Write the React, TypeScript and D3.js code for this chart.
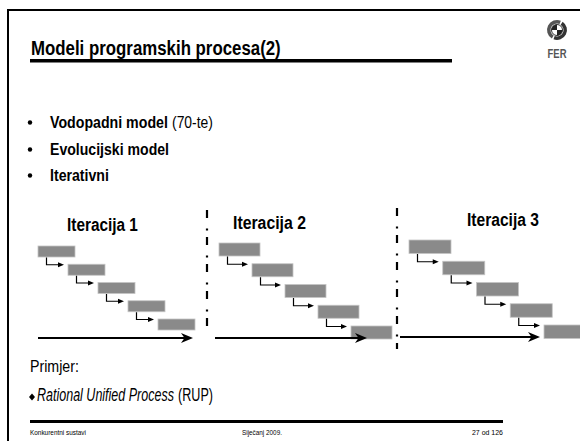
import React from "react";
import * as d3 from "d3";

// ---- content (data) ----
const titleText = "Modeli programskih procesa(2)";
const bulletBold = ["Vodopadni model", "Evolucijski model", "Iterativni"];
const bulletRest = ["(70-te)", "", ""];
const iterations = ["Iteracija 1", "Iteracija 2", "Iteracija 3"];
const phases = [0, 1, 2, 3, 4];
const exampleLabel = "Primjer:";
const exampleItalic = "Rational Unified Process";
const exampleRest = "(RUP)";
const footerLeft = "Konkurentni sustavi";
const footerCenter = "Siječanj 2009.";
const footerRight = "27 od 126";

// ---- layout (geometry only) ----
const W = 580;
const H = 441;
const FONT = "Liberation Sans";

const iterLayout = [
  { x0: 38, x1: 158, y0: 246, y1: 319, w: 37, h: 11, lx: 67, ly: 231, lw: 71, ax0: 38, ax1: 193, ay: 338 },
  { x0: 219, x1: 351, y0: 243, y1: 326, w: 41, h: 13, lx: 233, ly: 229, lw: 73, ax0: 215, ax1: 367, ay: 338 },
  { x0: 409, x1: 544, y0: 240, y1: 325, w: 42, h: 13.5, lx: 467, ly: 226, lw: 72, ax0: 400, ax1: 540, ay: 337 },
];
const dividers = [
  { x: 207, y1: 210, y2: 331 },
  { x: 397, y1: 208, y2: 349 },
];

let ctx: CanvasRenderingContext2D | null = null;
function measure(text: string, size: number, weight: string, style: string): number {
  if (!ctx) ctx = document.createElement("canvas").getContext("2d");
  if (!ctx) return text.length * size * 0.5;
  ctx.font = `${style} ${weight} ${size}px "${FONT}"`;
  return ctx.measureText(text).width;
}

function FitText(props: {
  x: number; y: number; w: number; size: number; weight?: string; fstyle?: string;
  anchor?: "start" | "middle" | "end"; fill?: string; children: string;
}) {
  const weight = props.weight || "normal";
  const fstyle = props.fstyle || "normal";
  const natural = measure(props.children, props.size, weight, fstyle);
  const sx = natural > 0 ? props.w / natural : 1;
  return (
    <text transform={`translate(${props.x},${props.y}) scale(${sx},1)`} fontFamily={`'${FONT}', Arial, sans-serif`}
      fontSize={props.size} fontWeight={weight} fontStyle={fstyle} textAnchor={props.anchor || "start"}
      fill={props.fill || "#000"}>{props.children}</text>
  );
}

function Iteration({ idx }: { idx: number }) {
  const L = iterLayout[idx];
  const xs = d3.scaleLinear().domain([0, phases.length - 1]).range([L.x0, L.x1]);
  const ys = d3.scaleLinear().domain([0, phases.length - 1]).range([L.y0, L.y1]);
  const tip = L.ax1;
  return (
    <g>
      <FitText x={L.lx} y={L.ly} w={L.lw} size={19} weight="bold">{iterations[idx]}</FitText>
      {phases.map((p) => (
        <rect key={"b" + p} x={xs(p)} y={ys(p)} width={L.w} height={L.h}
          fill="#8a8a8a" stroke="#c4c4c4" strokeWidth={0.8} />
      ))}
      {phases.slice(0, -1).map((p) => {
        const cx = xs(p) + 8.5;
        const top = ys(p) + L.h + 0.5;
        const ay = ys(p + 1) + 0.5;
        const tx = xs(p + 1) - 4;
        return (
          <g key={"c" + p}>
            <path d={`M${cx},${top}V${ay}H${tx - 5}`} fill="none" stroke="#000" strokeWidth={1.2} />
            <path d={`M${tx},${ay}L${tx - 6},${ay - 2.6}L${tx - 6},${ay + 2.6}Z`} fill="#000" />
          </g>
        );
      })}
      <line x1={L.ax0} x2={tip - 8} y1={L.ay} y2={L.ay} stroke="#000" strokeWidth={2.2} />
      <path d={`M${tip},${L.ay}L${tip - 12},${L.ay - 5}L${tip - 8.5},${L.ay}L${tip - 12},${L.ay + 5}Z`} fill="#000" />
    </g>
  );
}

function Logo() {
  const cx = 557;
  const cy = 30;
  const arc = d3.arc();
  const ringA = arc({ innerRadius: 6.5, outerRadius: 10, startAngle: -2.6, endAngle: 0.4 }) as string;
  const ringB = arc({ innerRadius: 6.5, outerRadius: 10, startAngle: 0.6, endAngle: 3.5 }) as string;
  const q1 = arc({ innerRadius: 0, outerRadius: 5.5, startAngle: -Math.PI / 2, endAngle: 0 }) as string;
  const q2 = arc({ innerRadius: 0, outerRadius: 5.5, startAngle: Math.PI / 2, endAngle: Math.PI }) as string;
  return (
    <g>
      <g transform={`translate(${cx},${cy})`}>
        <path d={ringA} fill="#555" />
        <path d={ringB} fill="#333" />
        <circle r={5.5} fill="#fff" stroke="#333" strokeWidth={1} />
        <path d={q1} fill="#222" />
        <path d={q2} fill="#222" />
      </g>
      <FitText x={cx} y={58} w={19} size={13} weight="bold" anchor="middle" fill="#555">FER</FitText>
    </g>
  );
}

export default function App() {
  const bulletY = [128, 155, 181];
  const boldW = [118, 119, 59];
  const restX = 172;
  const restW = 41;
  return (
    <svg width={W} height={H} viewBox={`0 0 ${W} ${H}`}
      style={{ position: "absolute", left: 0, top: 0, background: "#fff" }}>
      <rect x={0} y={0} width={W} height={H} fill="#fff" />
      {/* frame */}
      <line x1={7} x2={W} y1={10} y2={10} stroke="#000" strokeWidth={2} />
      <line x1={8} x2={8} y1={9} y2={H} stroke="#000" strokeWidth={2} />

      {/* title */}
      <FitText x={31} y={55} w={250} size={21} weight="bold">{titleText}</FitText>
      <rect x={30} y={59} width={422} height={3.5} fill="#000" />
      <Logo />

      {/* bullets */}
      {bulletBold.map((b, i) => (
        <g key={b}>
          <circle cx={30} cy={bulletY[i] - 5.5} r={2.2} fill="#000" />
          <FitText x={50} y={bulletY[i]} w={boldW[i]} size={17} weight="bold">{b}</FitText>
          {bulletRest[i] ? (
            <FitText x={restX} y={bulletY[i]} w={restW} size={17}>{bulletRest[i]}</FitText>
          ) : null}
        </g>
      ))}

      {/* iterations */}
      {iterations.map((_, i) => <Iteration key={i} idx={i} />)}
      {dividers.map((d, i) => (
        <line key={i} x1={d.x} x2={d.x} y1={d.y1} y2={d.y2} stroke="#000" strokeWidth={2.2}
          strokeDasharray="8 10.5 2 6.5" />
      ))}

      {/* example */}
      <FitText x={30} y={372} w={49} size={17}>{exampleLabel}</FitText>
      <path d="M32,393.5L35,397L32,400.5L29,397Z" fill="#000" />
      <FitText x={37} y={401} w={137} size={17.5} fstyle="italic">{exampleItalic}</FitText>
      <FitText x={178} y={401} w={35} size={17.5}>{exampleRest}</FitText>

      {/* footer */}
      <rect x={30} y={420} width={473} height={3} fill="#000" />
      <FitText x={30} y={435} w={56} size={8}>{footerLeft}</FitText>
      <FitText x={242} y={435} w={40} size={8}>{footerCenter}</FitText>
      <FitText x={503} y={435} w={31} size={8} anchor="end">{footerRight}</FitText>
    </svg>
  );
}
